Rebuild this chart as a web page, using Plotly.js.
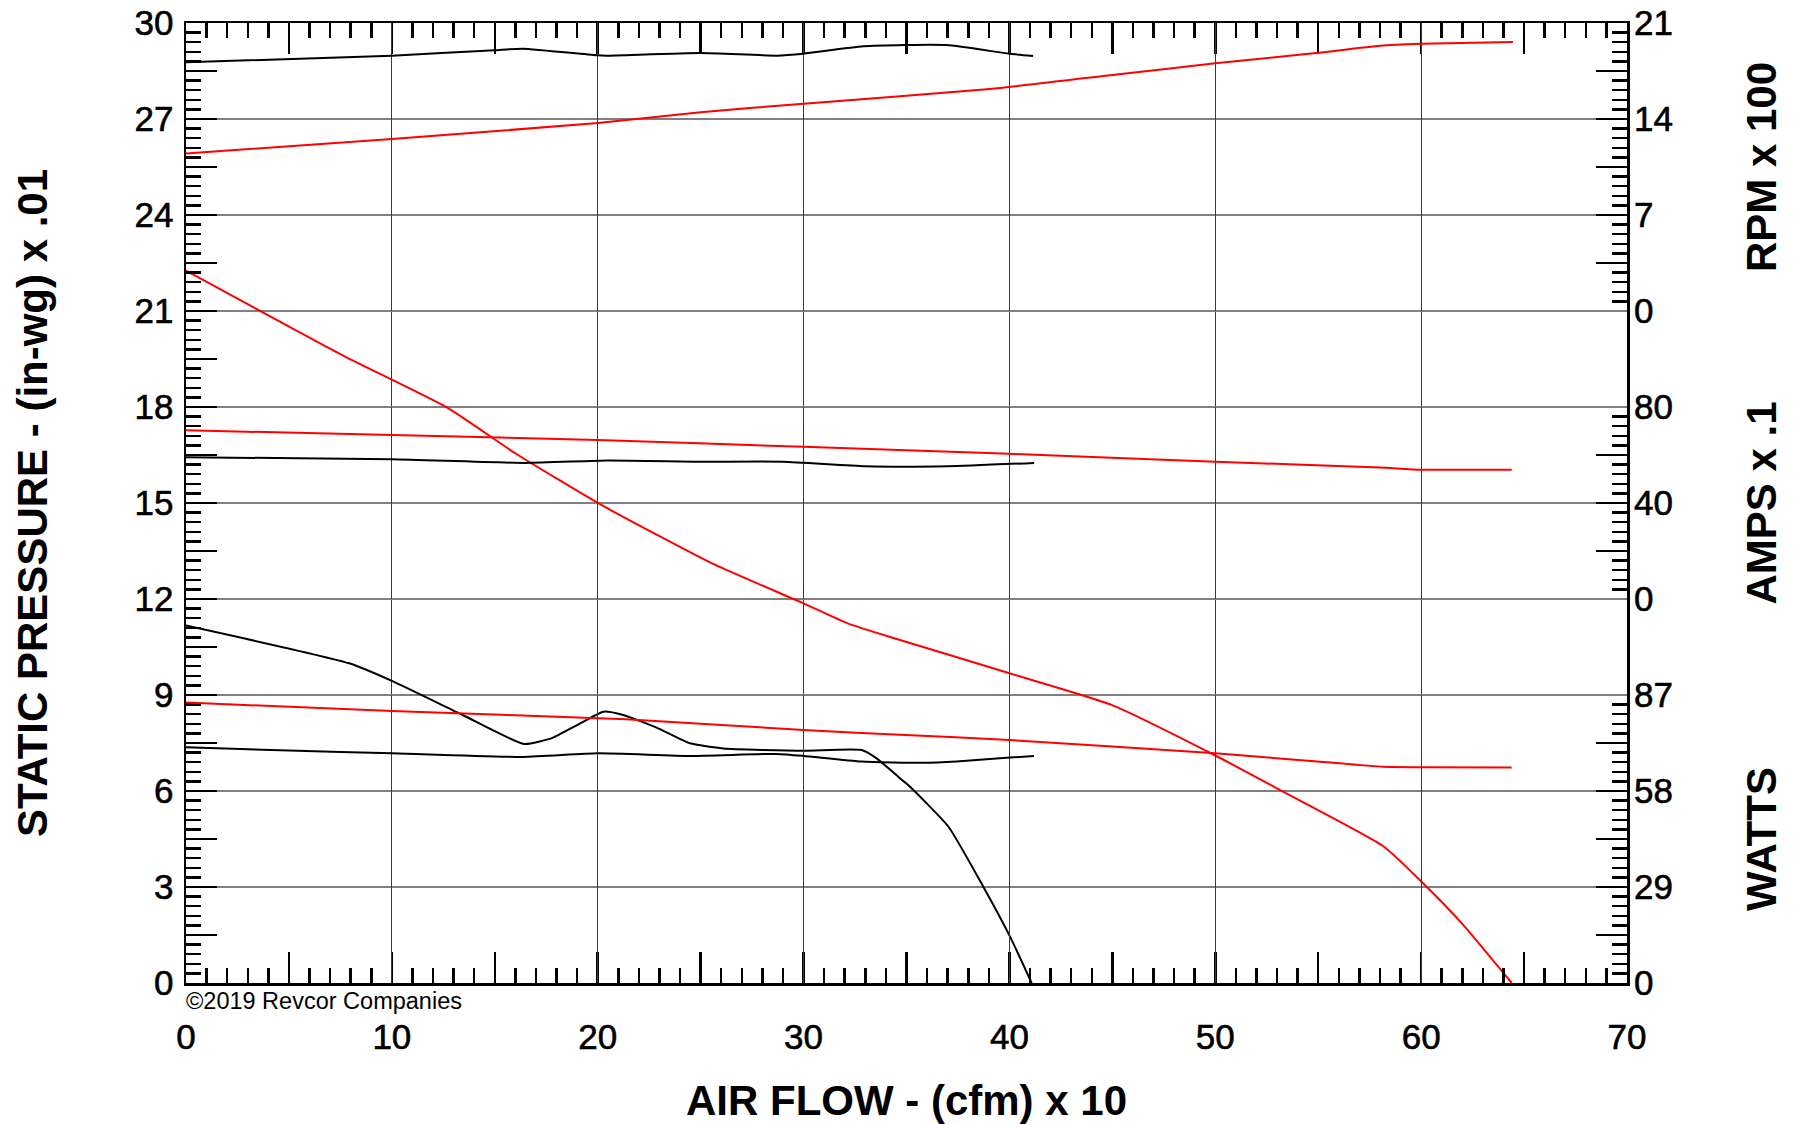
<!DOCTYPE html>
<html>
<head>
<meta charset="utf-8">
<script src="https://cdn.plot.ly/plotly-3.0.1.min.js"></script>
<style>
  html, body { margin: 0; padding: 0; background: #ffffff; }
  #chart { width: 1794px; height: 1124px; }
  /* tick labels of the reference are a little heavier than a plain regular face */
  #chart .xtick text, #chart .ytick text, #chart .y2tick text,
  #chart .y3tick text, #chart .y4tick text { stroke: #000000; stroke-width: 0.6px; }
</style>
</head>
<body>
<div id="chart"></div>
<script>
// ---------------- DATA ----------------
// Air flow axis (cfm x 10)
var xLabelVals = [0, 10, 20, 30, 40, 50, 60, 70];
var xLabelText = ['0', '10', '20', '30', '40', '50', '60', '70'];
var xHalfVals  = [5, 15, 25, 35, 45, 55, 65];

// Static pressure axis (in-wg x .01)
var spLabelVals = [0, 3, 6, 9, 12, 15, 18, 21, 24, 27, 30];
var spLabelText = ['0', '3', '6', '9', '12', '15', '18', '21', '24', '27', '30'];
var spHalfVals  = [1.5, 4.5, 7.5, 10.5, 13.5, 16.5, 19.5, 22.5, 25.5, 28.5];

// RPM x 100 axis
var rpmTickVals = [0, 3.5, 7, 10.5, 14, 17.5, 21];
var rpmTickText = ['0', '', '7', '', '14', '', '21'];

// AMPS x .1 axis
var ampsTickVals = [0, 20, 40, 60, 80];
var ampsTickText = ['0', '', '40', '', '80'];

// WATTS axis
var wattsTickVals = [0, 14.5, 29, 43.5, 58, 72.5, 87];
var wattsTickText = ['0', '', '29', '', '58', '', '87'];

// Black curves (lower speed)
var blackSpFlow = [0, 7.93, 10, 13.44, 16.43, 17.8, 19.0, 20.28, 21.24, 22.86, 24.48, 26.1, 30, 32.82, 33.55, 34.68, 35.17, 37.03, 38.73, 40.03, 41.08];
var blackSp     = [11.17, 9.99, 9.44, 8.375, 7.47, 7.66, 8.06, 8.48, 8.375, 7.98, 7.49, 7.33, 7.26, 7.28, 7.02, 6.4, 6.13, 4.89, 3.01, 1.45, 0];

var blackRpmFlow = [0, 10, 15, 16.35, 20, 20.4, 25, 28.7, 30, 32.9, 36.94, 40, 41.15];
var blackRpm     = [18.13, 18.62, 19.02, 19.13, 18.64, 18.62, 18.81, 18.62, 18.76, 19.30, 19.39, 18.76, 18.60];

var blackAmpsFlow = [0, 10, 16.5, 20.5, 25, 29, 33, 37, 41.2];
var blackAmps     = [59.1, 58.2, 56.7, 57.7, 57.2, 57.2, 55.3, 55.3, 56.7];

var blackWattsFlow = [0, 5, 10, 16.4, 20, 24.48, 28.69, 30, 32.82, 35.81, 37.43, 40.03, 41.19];
var blackWatts     = [71.2, 70.2, 69.4, 68.3, 69.4, 68.6, 69.2, 68.6, 66.9, 66.5, 66.9, 68.1, 68.6];

// Red curves (higher speed)
var redSpFlow = [0, 7.68, 12.69, 16.03, 20.2, 25.5, 29.94, 32.17, 34.68, 40, 44.96, 49.95, 53.29, 58.15, 59.93, 62, 64.4];
var redSp     = [22.26, 19.59, 17.98, 16.54, 14.93, 13.13, 11.88, 11.23, 10.72, 9.68, 8.69, 7.125, 5.98, 4.28, 3.22, 1.85, 0];

var redRpmFlow = [0, 10, 20, 25, 30, 39.05, 45.2, 50, 54.9, 58, 60, 64.46];
var redRpm     = [11.48, 12.54, 13.71, 14.49, 15.12, 16.19, 17.24, 18.06, 18.81, 19.34, 19.48, 19.62];

var redAmpsFlow = [0, 20, 30, 40, 50, 58, 60, 64.4];
var redAmps     = [70.3, 66.3, 63.4, 60.5, 57.2, 54.8, 53.9, 53.9];

var redWattsFlow = [0, 10, 21.37, 30, 34.68, 40, 50, 54.96, 58.15, 59.93, 64.4];
var redWatts     = [84.7, 82.2, 79.7, 76.4, 75.0, 73.4, 69.4, 66.9, 65.3, 65.2, 65.1];

// ---------------- STYLE ----------------
var FONT = '"Liberation Sans", Arial, Helvetica, sans-serif';
var BLACK = '#000000';
var RED = '#ff0000';

function curve(x, y, yaxis, color) {
  return {
    type: 'scatter', mode: 'lines', x: x, y: y, yaxis: yaxis, xaxis: 'x',
    line: { color: color, width: 2, shape: 'spline', smoothing: 0.5 },
    hoverinfo: 'skip', showlegend: false
  };
}
// empty helper traces that only bind the tick-overlay axes
function binder(xa, ya) {
  return { type: 'scatter', mode: 'lines', x: [], y: [], xaxis: xa, yaxis: ya, hoverinfo: 'skip', showlegend: false };
}

var traces = [
  binder('x2', 'y'),
  binder('x', 'y5'),
  curve(blackSpFlow, blackSp, 'y', BLACK),
  curve(redSpFlow, redSp, 'y', RED),
  curve(blackRpmFlow, blackRpm, 'y2', BLACK),
  curve(redRpmFlow, redRpm, 'y2', RED),
  curve(blackAmpsFlow, blackAmps, 'y3', BLACK),
  curve(redAmpsFlow, redAmps, 'y3', RED),
  curve(blackWattsFlow, blackWatts, 'y4', BLACK),
  curve(redWattsFlow, redWatts, 'y4', RED)
];

var tickFont = { family: FONT, size: 35, color: BLACK };
var titleFont = { family: FONT, size: 42, color: BLACK, weight: 'bold' };
var TW = 2.5;
function minorTick(d) {
  return { dtick: d, tick0: 0, ticks: 'inside', ticklen: 15, tickwidth: TW, tickcolor: BLACK, showgrid: false };
}

function rightAxis(domain, range, vals, text, minorD, title) {
  return {
    domain: domain, range: range, anchor: 'x', side: 'right',
    tickmode: 'array', tickvals: vals, ticktext: text,
    ticks: 'inside', ticklen: 31, tickwidth: TW, tickcolor: BLACK,
    minor: minorTick(minorD),
    showgrid: false, zeroline: false, showline: false,
    tickfont: tickFont, ticklabelstandoff: 6,
    title: { text: title, font: titleFont, standoff: 74 },
    fixedrange: true
  };
}

var layout = {
  width: 1794, height: 1124,
  margin: { l: 186, r: 167, t: 23, b: 141, pad: 0 },
  paper_bgcolor: '#ffffff', plot_bgcolor: 'rgba(0,0,0,0)',
  showlegend: false,
  xaxis: {
    range: [0, 70], anchor: 'y',
    tickmode: 'array', tickvals: xLabelVals, ticktext: xLabelText,
    ticks: 'inside', ticklen: 31, tickwidth: TW, tickcolor: BLACK,
    minor: minorTick(1),
    showline: true, linewidth: 2.5, linecolor: BLACK, mirror: 'ticks',
    showgrid: true, gridcolor: '#3a3a3a', gridwidth: 1.2, zeroline: false,
    tickfont: tickFont, ticklabelstandoff: 21,
    title: { text: 'AIR FLOW - (cfm) x 10', font: titleFont, standoff: 50 },
    fixedrange: true
  },
  xaxis2: {
    range: [0, 70], overlaying: 'x', anchor: 'y', side: 'bottom',
    tickmode: 'array', tickvals: xHalfVals,
    ticks: 'inside', ticklen: 31, tickwidth: TW, tickcolor: BLACK, mirror: 'ticks',
    showgrid: false, showticklabels: false, showline: false, zeroline: false,
    fixedrange: true
  },
  yaxis: {
    domain: [0, 1], range: [0, 30], anchor: 'x', side: 'left',
    tickmode: 'array', tickvals: spLabelVals, ticktext: spLabelText,
    ticks: 'inside', ticklen: 31, tickwidth: TW, tickcolor: BLACK,
    minor: minorTick(0.3),
    showline: true, linewidth: 2.5, linecolor: BLACK, mirror: true,
    showgrid: true, gridcolor: '#808080', gridwidth: 2, zeroline: false,
    tickfont: tickFont, ticklabelstandoff: 3,
    title: { text: 'STATIC PRESSURE - (in-wg) x .01', font: titleFont, standoff: 74 },
    fixedrange: true
  },
  yaxis5: {
    range: [0, 30], overlaying: 'y', anchor: 'x', side: 'left',
    tickmode: 'array', tickvals: spHalfVals,
    ticks: 'inside', ticklen: 31, tickwidth: TW, tickcolor: BLACK,
    showgrid: false, showticklabels: false, showline: false, zeroline: false,
    fixedrange: true
  },
  yaxis2: rightAxis([0.7, 1], [0, 21], rpmTickVals, rpmTickText, 0.7, 'RPM x 100'),
  yaxis3: rightAxis([0.4, 0.6], [0, 80], ampsTickVals, ampsTickText, 4, 'AMPS x .1'),
  yaxis4: rightAxis([0, 0.3], [0, 87], wattsTickVals, wattsTickText, 2.9, 'WATTS'),
  annotations: [{
    text: '©2019 Revcor Companies',
    xref: 'paper', yref: 'paper', x: 0, y: 0,
    xanchor: 'left', yanchor: 'top', xshift: -2, yshift: -3,
    showarrow: false,
    font: { family: FONT, size: 23.5, color: BLACK }
  }]
};

Plotly.newPlot('chart', traces, layout, { displayModeBar: false, staticPlot: true });
</script>
</body>
</html>
